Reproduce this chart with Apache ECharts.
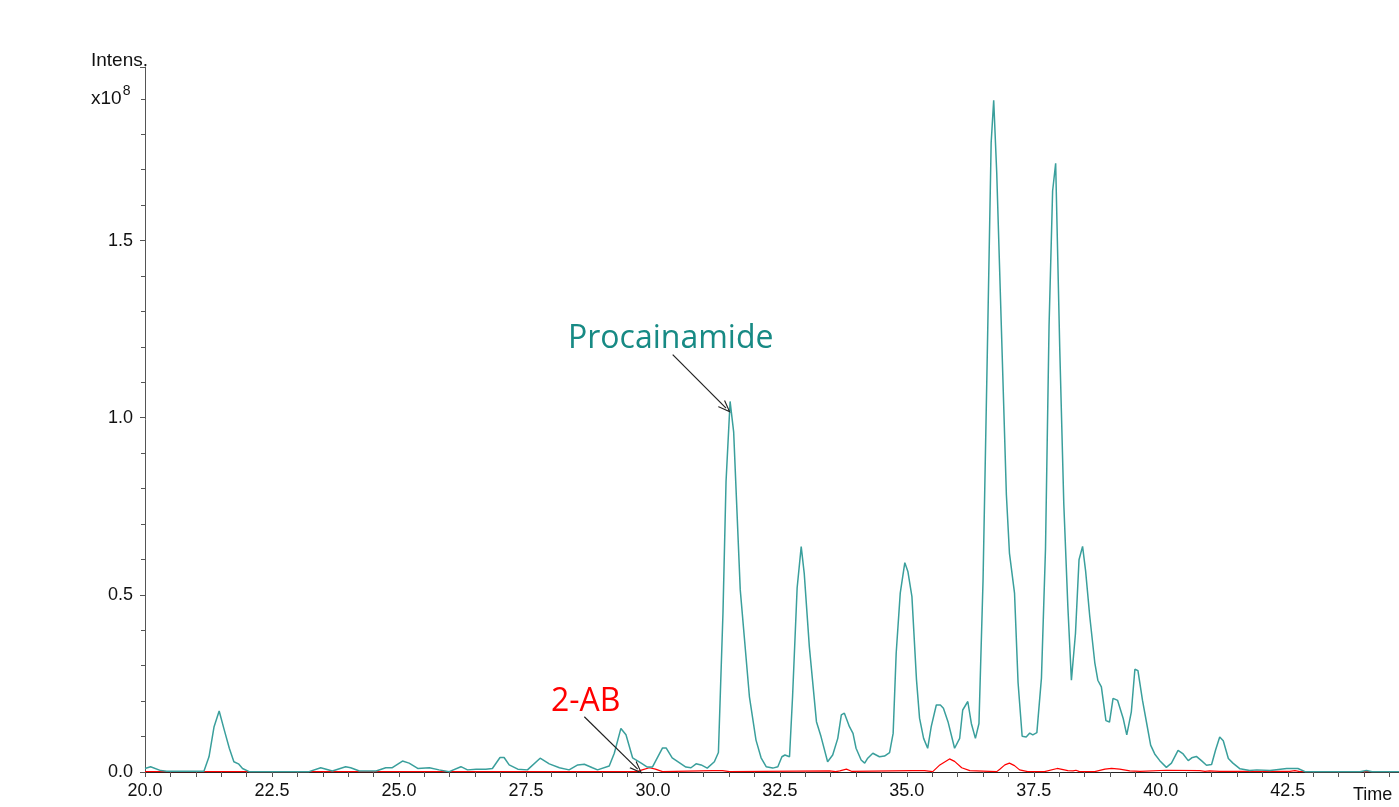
<!DOCTYPE html>
<html>
<head>
<meta charset="utf-8">
<title>Chromatogram</title>
<script src="https://cdn.jsdelivr.net/npm/echarts@6/dist/echarts.min.js"></script>
<style>
  html, body { margin: 0; padding: 0; background: #fff; }
  #chart { width: 1399px; height: 807px; }
</style>
</head>
<body>
<div id="chart"></div>
<script>
// retention time (min) and intensity (x10^8)
const procTime = [20.00, 20.11, 20.31, 20.43, 21.16, 21.26, 21.36, 21.46, 21.56, 21.66, 21.75, 21.84, 21.92, 22.05,
    23.23, 23.46, 23.69, 23.95, 24.05, 24.22, 24.55, 24.74, 24.87, 25.07, 25.20, 25.37, 25.60, 25.79, 25.99,
    26.22, 26.35, 26.52, 26.71, 26.84, 26.99, 27.07, 27.17, 27.34, 27.53, 27.78, 27.96, 28.16, 28.35, 28.52,
    28.65, 28.81, 28.91, 29.14, 29.24, 29.37, 29.47, 29.60, 29.77, 29.89, 29.99, 30.19, 30.26, 30.38, 30.65,
    30.75, 30.85, 30.95, 31.07, 31.21, 31.29, 31.38, 31.44, 31.52, 31.59, 31.72, 31.90, 32.03, 32.13, 32.23,
    32.36, 32.46, 32.54, 32.60, 32.69, 32.75, 32.84, 32.92, 32.98, 33.08, 33.22, 33.31, 33.44, 33.54, 33.64,
    33.71, 33.77, 33.87, 33.94, 34.00, 34.10, 34.17, 34.23, 34.33, 34.46, 34.56, 34.66, 34.73, 34.79, 34.87,
    34.96, 35.02, 35.10, 35.19, 35.25, 35.33, 35.41, 35.48, 35.58, 35.66, 35.72, 35.81, 35.94, 36.04, 36.10,
    36.20, 36.27, 36.35, 36.42, 36.50, 36.58, 36.66, 36.71, 36.77, 36.96, 37.02, 37.12, 37.19, 37.27, 37.35,
    37.42, 37.48, 37.56, 37.65, 37.73, 37.80, 37.87, 37.93, 38.01, 38.09, 38.17, 38.24, 38.32, 38.39, 38.46,
    38.52, 38.60, 38.70, 38.76, 38.83, 38.92, 38.99, 39.06, 39.15, 39.26, 39.33, 39.42, 39.49, 39.55, 39.64,
    39.72, 39.80, 39.88, 39.98, 40.11, 40.21, 40.34, 40.44, 40.54, 40.61, 40.70, 40.80, 40.90, 41.00, 41.08,
    41.16, 41.23, 41.33, 41.42, 41.56, 41.75, 41.89, 42.15, 42.48, 42.70, 42.84, 43.92, 44.05, 44.16, 44.69];
const procIntensity = [0.010, 0.015, 0.004, 0.002, 0.002, 0.043, 0.128, 0.172, 0.119, 0.067, 0.029, 0.023, 0.010, 0.001,
    0.001, 0.012, 0.003, 0.015, 0.012, 0.003, 0.003, 0.012, 0.012, 0.031, 0.025, 0.010, 0.012, 0.006, 0.001,
    0.015, 0.006, 0.008, 0.008, 0.010, 0.041, 0.041, 0.020, 0.008, 0.006, 0.039, 0.023, 0.012, 0.006, 0.020,
    0.022, 0.012, 0.006, 0.017, 0.053, 0.123, 0.105, 0.040, 0.025, 0.014, 0.014, 0.068, 0.068, 0.040, 0.014,
    0.012, 0.023, 0.020, 0.011, 0.029, 0.055, 0.450, 0.820, 1.046, 0.960, 0.514, 0.213, 0.090, 0.040, 0.015,
    0.011, 0.015, 0.043, 0.048, 0.043, 0.213, 0.520, 0.636, 0.560, 0.354, 0.142, 0.100, 0.029, 0.048, 0.095,
    0.161, 0.166, 0.128, 0.109, 0.067, 0.034, 0.025, 0.039, 0.053, 0.043, 0.045, 0.055, 0.109, 0.335, 0.505,
    0.591, 0.566, 0.495, 0.260, 0.152, 0.095, 0.067, 0.128, 0.189, 0.189, 0.180, 0.142, 0.067, 0.095, 0.175,
    0.199, 0.137, 0.095, 0.137, 0.540, 1.150, 1.776, 1.896, 1.690, 0.782, 0.618, 0.505, 0.252, 0.101, 0.099,
    0.110, 0.105, 0.111, 0.265, 0.630, 1.260, 1.640, 1.718, 1.198, 0.757, 0.467, 0.259, 0.391, 0.599, 0.637,
    0.567, 0.441, 0.309, 0.259, 0.240, 0.145, 0.141, 0.208, 0.202, 0.151, 0.105, 0.170, 0.290, 0.286, 0.202,
    0.139, 0.076, 0.051, 0.032, 0.013, 0.025, 0.061, 0.051, 0.032, 0.040, 0.044, 0.032, 0.019, 0.021, 0.063,
    0.099, 0.088, 0.038, 0.025, 0.009, 0.004, 0.006, 0.004, 0.010, 0.010, 0.001, 0.001, 0.004, 0.001, 0.001];

const abTime = [20.00, 29.69, 29.79, 29.93, 30.05, 30.19, 31.17, 31.37, 31.51, 33.48, 33.60, 33.68, 33.81, 33.91,
    35.11, 35.35, 35.51, 35.65, 35.84, 35.94, 36.08, 36.24, 36.63, 36.77, 36.83, 36.93, 37.02, 37.12, 37.22,
    37.38, 37.71, 37.96, 38.17, 38.27, 38.33, 38.40, 38.70, 38.90, 39.03, 39.19, 39.39, 39.59, 40.11, 40.77,
    40.87, 40.96, 41.16, 42.54, 42.64, 42.74, 44.69];
const abIntensity = [0.001, 0.001, 0.006, 0.012, 0.008, 0.001, 0.004, 0.004, 0.001, 0.003, 0.001, 0.003, 0.008, 0.002,
    0.004, 0.004, 0.001, 0.020, 0.037, 0.030, 0.012, 0.004, 0.002, 0.001, 0.008, 0.020, 0.025, 0.018, 0.006,
    0.001, 0.001, 0.010, 0.004, 0.003, 0.005, 0.001, 0.001, 0.008, 0.010, 0.008, 0.003, 0.002, 0.005, 0.004,
    0.002, 0.003, 0.002, 0.002, 0.004, 0.001, 0.001];

const yTicks = ['0.0', '0.5', '1.0', '1.5'];

// open arrow head, tip up
const arrowHead = 'path://M5,0 L10,11 L8.8,11 L5,2.6 L1.2,11 L0,11 Z';

let myChart = echarts.init(document.getElementById('chart'));
let axisColor = '#555';
let labelFont = { color: '#111', fontSize: 18, fontFamily: 'Liberation Sans, Arial, sans-serif' };

let option = {
    animation: false,
    grid: { left: 145, right: 0, top: 67, bottom: 35 },
    xAxis: [
        {
            type: 'value',
            min: 20,
            max: 44.69,
            interval: 2.5,
            axisLine: { show: true, onZero: false, lineStyle: { color: axisColor, width: 1 } },
            axisTick: { show: true, length: 5, lineStyle: { color: axisColor } },
            minorTick: { show: true, splitNumber: 5, length: 5, lineStyle: { color: axisColor } },
            splitLine: { show: false },
            axisLabel: Object.assign({
                margin: 10,
                showMaxLabel: false,
                formatter: v => v.toFixed(1)
            }, labelFont)
        },
        {
            // top frame line
            type: 'value',
            position: 'top',
            min: 20,
            max: 44.69,
            axisLine: { show: true, lineStyle: { color: '#222', width: 1.2 } },
            axisTick: { show: false },
            axisLabel: { show: false },
            splitLine: { show: false }
        }
    ],
    yAxis: {
        type: 'value',
        min: 0,
        max: 1.99,
        interval: 0.5,
        axisLine: { show: true, lineStyle: { color: axisColor, width: 1 } },
        axisTick: { show: true, length: 5, lineStyle: { color: axisColor } },
        minorTick: { show: true, splitNumber: 5, length: 4, lineStyle: { color: axisColor } },
        splitLine: { show: false },
        axisLabel: Object.assign({
            margin: 12,
            showMaxLabel: false,
            formatter: v => yTicks[Math.round(v / 0.5)] || ''
        }, labelFont)
    },
    series: [
        {
            name: 'Procainamide',
            type: 'line',
            data: procTime.map((t, i) => [t, procIntensity[i]]),
            symbol: 'none',
            lineStyle: { color: '#3a9f9c', width: 1.5 },
            z: 3,
            markLine: {
                silent: true,
                symbol: ['none', arrowHead],
                symbolSize: [10, 13],
                label: { show: false },
                lineStyle: { color: '#222', type: 'solid', width: 1.2 },
                data: [
                    [{ coord: [30.39, 1.178] }, { coord: [31.44, 1.027] }],
                    [{ coord: [28.65, 0.156] }, { coord: [29.70, 0.008] }]
                ]
            }
        },
        {
            name: '2-AB',
            type: 'line',
            data: abTime.map((t, i) => [t, abIntensity[i]]),
            symbol: 'none',
            lineStyle: { color: '#ff0000', width: 1.2 },
            z: 2
        }
    ],
    graphic: [
        {
            type: 'text', left: 91, top: 51,
            style: { text: 'Intens.', fill: '#111', font: '19px "Liberation Sans", Arial, sans-serif' }
        },
        {
            type: 'text', left: 91, top: 84,
            style: {
                text: '{b|x10}{s|8}',
                rich: {
                    b: { fill: '#111', fontSize: 19, fontFamily: 'Liberation Sans', verticalAlign: 'bottom', lineHeight: 24 },
                    s: { fill: '#111', fontSize: 14, fontFamily: 'Liberation Sans', verticalAlign: 'top', lineHeight: 24, padding: [0, 0, 10, 1] }
                }
            }
        },
        {
            type: 'text', left: 1353, top: 786,
            style: { text: 'Time', fill: '#111', font: '18px "Liberation Sans", Arial, sans-serif' }
        },
        {
            type: 'text', left: 568, top: 323,
            style: { text: 'Procainamide', fill: '#178a84', font: '32px "Open Sans", sans-serif' }
        },
        {
            type: 'text', left: 551, top: 686,
            style: { text: '2-AB', fill: '#ff0000', font: '32px "Open Sans", sans-serif' }
        }
    ]
};
myChart.setOption(option);
</script>
</body>
</html>
